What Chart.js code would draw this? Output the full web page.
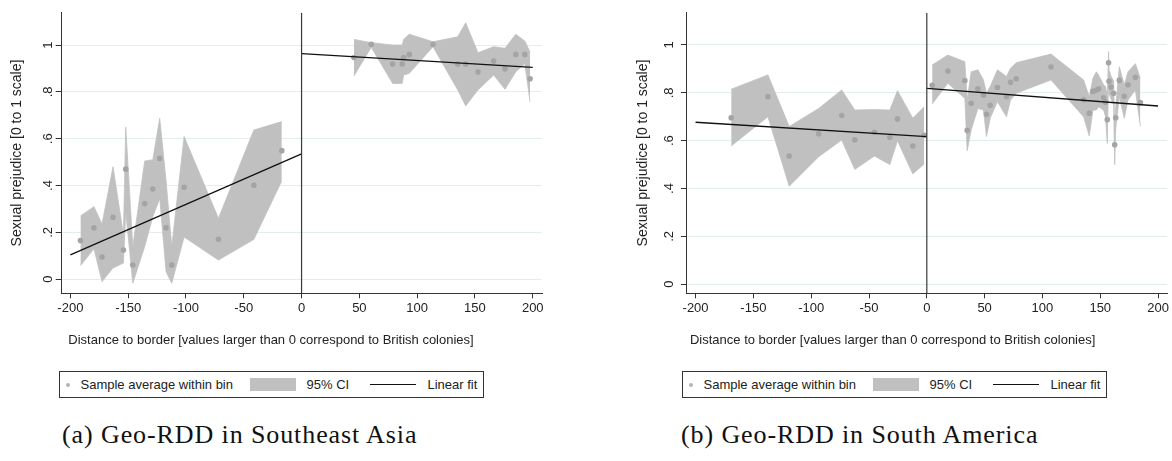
<!DOCTYPE html>
<html>
<head>
<meta charset="utf-8">
<script src="https://cdn.jsdelivr.net/npm/chart.js@4.4.0/dist/chart.umd.min.js"></script>
<style>
  html, body { margin: 0; padding: 0; background: #fff; overflow: hidden; }
  body { width: 1172px; height: 461px; position: relative; font-family: "Liberation Sans", Arial, sans-serif; color: #222; }
  .panel { position: absolute; top: 0; }
  .legend { position: absolute; top: 371px; width: 425px; height: 27px; border: 1px solid #333; box-sizing: border-box; font-size: 13px; }
  .legend .txt { position: absolute; top: 0; line-height: 25px; white-space: nowrap; }
  .legend .dot { position: absolute; top: 10.5px; width: 4px; height: 4px; border-radius: 50%; background: #b4b4b4; }
  .legend .box { position: absolute; top: 5.5px; width: 46px; height: 13.5px; background: #c0c0c0; }
  .legend .ln { position: absolute; top: 12px; width: 46px; height: 1px; background: #111; }
  .caption { position: absolute; top: 420px; line-height: 30px; font-family: "Liberation Serif", serif; font-size: 26px; letter-spacing: 0.9px; color: #111; white-space: nowrap; }
</style>
</head>
<body>

<div class="panel" style="left:0px;"><canvas id="chartA" width="560" height="360"></canvas></div>
<div class="panel" style="left:618.4px;"><canvas id="chartB" width="553" height="360"></canvas></div>

<div class="legend" style="left:59px;">
  <div class="dot" style="left:6px;"></div><div class="txt" style="left:20.5px;">Sample average within bin</div>
  <div class="box" style="left:189.5px;"></div><div class="txt" style="left:246.5px;">95% CI</div>
  <div class="ln" style="left:310px;"></div><div class="txt" style="left:367.5px;">Linear fit</div>
</div>
<div class="legend" style="left:682px;">
  <div class="dot" style="left:6px;"></div><div class="txt" style="left:20.5px;">Sample average within bin</div>
  <div class="box" style="left:189.5px;"></div><div class="txt" style="left:246.5px;">95% CI</div>
  <div class="ln" style="left:310px;"></div><div class="txt" style="left:367.5px;">Linear fit</div>
</div>

<div class="caption" style="left:62px;">(a) Geo-RDD in Southeast Asia</div>
<div class="caption" style="left:681px;">(b) Geo-RDD in South America</div>

<script>
// Geo-RDD binned scatter plots (two panels)

const xTicks = [-200, -150, -100, -50, 0, 50, 100, 150, 200];
const yTicks = [0, 0.2, 0.4, 0.6, 0.8, 1];
const cutoff = 0;
const fitNegX = [-200, 0];
const fitPosX = [0, 200];
const xTitle = 'Distance to border [values larger than 0 correspond to British colonies]';
const yTitle = 'Sexual prejudice [0 to 1 scale]';

// (a) Southeast Asia
const aBinX  = [-191.3, -179.6, -172.6, -163.1, -154.1, -152.1, -146.0, -135.7, -128.7, -122.7, -117.2, -112.3, -101.6, -71.9, -41.3, -17.1,
                45.3, 60.3, 78.8, 87.1, 88.3, 93.2, 113.7, 135.1, 142.0, 152.6, 166.2, 176.0, 185.3, 193.1, 197.7];
const aMean  = [0.165, 0.22, 0.095, 0.265, 0.125, 0.47, 0.061, 0.323, 0.385, 0.516, 0.22, 0.061, 0.393, 0.171, 0.401, 0.549,
                0.947, 1.003, 0.919, 0.919, 0.947, 0.96, 1.003, 0.919, 0.919, 0.885, 0.932, 0.898, 0.96, 0.96, 0.856];
const aUpper = [0.27, 0.31, 0.236, 0.48, 0.19, 0.65, 0.139, 0.505, 0.51, 0.687, 0.42, 0.139, 0.609, 0.26, 0.637, 0.673,
                1.024, 1.01, 1.0, 1.0, 1.024, 1.046, 1.014, 1.035, 1.095, 0.967, 0.993, 0.986, 1.046, 1.017, 0.97];
const aLower = [0.058, 0.13, -0.01, 0.048, 0.069, 0.29, -0.017, 0.14, 0.267, 0.345, 0.032, -0.017, 0.18, 0.082, 0.17, 0.42,
                0.868, 0.99, 0.836, 0.836, 0.872, 0.879, 0.993, 0.808, 0.74, 0.808, 0.872, 0.811, 0.886, 0.92, 0.758];
const aFitNeg = [0.104, 0.535];
const aFitPos = [0.963, 0.905];
const aXRange = [-207.5, 208];
const aYRange = [-0.06, 1.138];

// (b) South America
const bBinX  = [-169.2, -137.4, -119.0, -93.5, -73.6, -62.3, -45.3, -32.0, -25.4, -12.1, -2.3,
                4.6, 18.2, 32.9, 34.9, 38.4, 44.2, 49.0, 51.6, 54.8, 61.1, 68.9, 72.4, 77.3, 107.4, 135.6, 140.5, 143.7, 146.6,
                148.6, 152.9, 154.6, 156.1, 157.2, 157.6, 159.3, 161.6, 162.5, 163.4, 166.5, 170.8, 174.0, 180.4, 184.7];
const bMean  = [0.696, 0.784, 0.536, 0.629, 0.705, 0.604, 0.635, 0.614, 0.691, 0.578, 0.623,
                0.832, 0.891, 0.851, 0.643, 0.756, 0.817, 0.791, 0.71, 0.748, 0.822, 0.784, 0.844, 0.859, 0.908, 0.771, 0.715, 0.806, 0.812,
                0.817, 0.779, 0.761, 0.688, 0.926, 0.848, 0.824, 0.798, 0.583, 0.696, 0.852, 0.786, 0.834, 0.865, 0.759];
const bUpper = [0.815, 0.875, 0.659, 0.735, 0.812, 0.728, 0.73, 0.728, 0.809, 0.694, 0.742,
                0.916, 0.958, 0.93, 0.77, 0.888, 0.896, 0.854, 0.798, 0.826, 0.896, 0.868, 0.903, 0.926, 0.962, 0.854, 0.784, 0.861, 0.888,
                0.875, 0.833, 0.826, 0.784, 0.972, 0.896, 0.87, 0.85, 0.631, 0.742, 0.909, 0.833, 0.888, 0.922, 0.861];
const bLower = [0.578, 0.70, 0.41, 0.533, 0.603, 0.48, 0.536, 0.50, 0.60, 0.461, 0.503,
                0.753, 0.84, 0.777, 0.558, 0.645, 0.735, 0.728, 0.617, 0.694, 0.763, 0.70, 0.77, 0.798, 0.854, 0.70, 0.62, 0.728, 0.728,
                0.742, 0.728, 0.70, 0.589, 0.868, 0.798, 0.775, 0.75, 0.499, 0.652, 0.784, 0.694, 0.77, 0.812, 0.659];
const bFitNeg = [0.677, 0.617];
const bFitPos = [0.819, 0.745];
const bXRange = [-207.5, 208];
const bYRange = [-0.038, 1.135];

const bandColor = '#c0c0c0';
const dotColor = '#a4a4a4';
const gridColor = '#e4eded';
const axisColor = '#333333';
const textColor = '#222222';
const fontFamily = 'Liberation Sans';

function pairs(xs, ys, keep) {
    const out = [];
    xs.forEach((x, i) => {
        if (!keep || keep(x)) out.push({ x: x, y: ys[i] });
    });
    return out;
}

function yLabel(v) {
    return (v === 0 || v === 1) ? String(v) : v.toFixed(1).replace(/^0/, '');
}

// Stata-style y tick labels: rotated, centred on the tick
const rotatedYLabels = {
    id: 'rotatedYLabels',
    afterDraw(chart, args, opts) {
        const { ctx, chartArea, scales } = chart;
        const x = chartArea.left - opts.gap;
        ctx.save();
        ctx.fillStyle = textColor;
        ctx.font = '13px "' + fontFamily + '"';
        ctx.textAlign = 'center';
        ctx.textBaseline = 'middle';
        yTicks.forEach(v => {
            const y = scales.y.getPixelForValue(v);
            ctx.save();
            ctx.translate(x, y);
            ctx.rotate(-Math.PI / 2);
            ctx.fillText(yLabel(v), 0, 0);
            ctx.restore();
        });
        ctx.restore();
    }
};

function buildPanel(canvasId, p) {
    const isNeg = x => x < cutoff;
    const isPos = x => x >= cutoff;
    const lineBase = { showLine: true, pointRadius: 0, tension: 0, fill: false };
    const bandBase = { showLine: true, pointRadius: 0, tension: 0, borderColor: bandColor, borderWidth: 0.8, backgroundColor: bandColor };

    // first dataset is drawn on top
    const datasets = [
        Object.assign({ label: 'cutoff', data: [{ x: cutoff, y: p.yRange[0] }, { x: cutoff, y: p.yRange[1] }],
            borderColor: '#3a3a3a', borderWidth: 1.2 }, lineBase),
        Object.assign({ label: 'fitNeg', data: pairs(fitNegX, p.fitNeg), borderColor: '#111', borderWidth: 1.3 }, lineBase),
        Object.assign({ label: 'fitPos', data: pairs(fitPosX, p.fitPos), borderColor: '#111', borderWidth: 1.3 }, lineBase),
        { label: 'bins', data: pairs(p.binX, p.mean), showLine: false, pointRadius: 2.8, pointHoverRadius: 2.8,
          pointBackgroundColor: dotColor, pointBorderWidth: 0, borderColor: dotColor },
        Object.assign({ label: 'upperNeg', data: pairs(p.binX, p.upper, isNeg), fill: '+1' }, bandBase),
        Object.assign({ label: 'lowerNeg', data: pairs(p.binX, p.lower, isNeg), fill: false }, bandBase),
        Object.assign({ label: 'upperPos', data: pairs(p.binX, p.upper, isPos), fill: '+1' }, bandBase),
        Object.assign({ label: 'lowerPos', data: pairs(p.binX, p.lower, isPos), fill: false }, bandBase)
    ];

    return new Chart(document.getElementById(canvasId), {
        type: 'scatter',
        data: { datasets },
        plugins: [rotatedYLabels],
        options: {
            responsive: false,
            animation: false,
            events: [],
            layout: { padding: { left: 0, top: 12.7, right: p.padRight, bottom: 0 } },
            plugins: {
                legend: { display: false },
                tooltip: { enabled: false },
                // x-axis title centred on the whole graph, as Stata does
                title: { display: true, position: 'bottom', text: xTitle, color: textColor,
                         font: { family: fontFamily, size: 13, weight: 'normal' }, padding: { top: 0, bottom: 12.2 } },
                rotatedYLabels: { gap: p.labelGap }
            },
            scales: {
                x: {
                    type: 'linear',
                    min: p.xRange[0],
                    max: p.xRange[1],
                    afterBuildTicks: s => { s.ticks = xTicks.map(v => ({ value: v })); },
                    afterFit: s => { s.height = 38.9; },
                    grid: { drawOnChartArea: false, drawTicks: true, tickLength: 5, tickColor: axisColor, tickWidth: 1 },
                    border: { color: axisColor, width: 1 },
                    ticks: { autoSkip: false, maxRotation: 0, padding: 2, color: textColor,
                             font: { family: fontFamily, size: 13 } },
                    title: { display: false }
                },
                y: {
                    type: 'linear',
                    min: p.yRange[0],
                    max: p.yRange[1],
                    afterBuildTicks: s => { s.ticks = yTicks.map(v => ({ value: v })); },
                    afterFit: s => { s.width = p.yAxisW; },
                    grid: { color: gridColor, lineWidth: 1, drawTicks: true, tickLength: 6, tickColor: axisColor, tickWidth: 1 },
                    border: { color: axisColor, width: 1 },
                    ticks: { display: false, autoSkip: false },
                    title: { display: true, text: yTitle, color: textColor, padding: { top: p.titlePad, bottom: 0 },
                             font: { family: fontFamily, size: 14 } }
                }
            }
        }
    });
}

buildPanel('chartA', {
    binX: aBinX, mean: aMean, upper: aUpper, lower: aLower, fitNeg: aFitNeg, fitPos: aFitPos,
    xRange: aXRange, yRange: aYRange, yAxisW: 61.7, padRight: 18, labelGap: 13, titlePad: 9
});
buildPanel('chartB', {
    binX: bBinX, mean: bMean, upper: bUpper, lower: bLower, fitNeg: bFitNeg, fitPos: bFitPos,
    xRange: bXRange, yRange: bYRange, yAxisW: 68.9, padRight: 3.7, labelGap: 17.3, titlePad: 16.5
});
</script>
</body>
</html>
